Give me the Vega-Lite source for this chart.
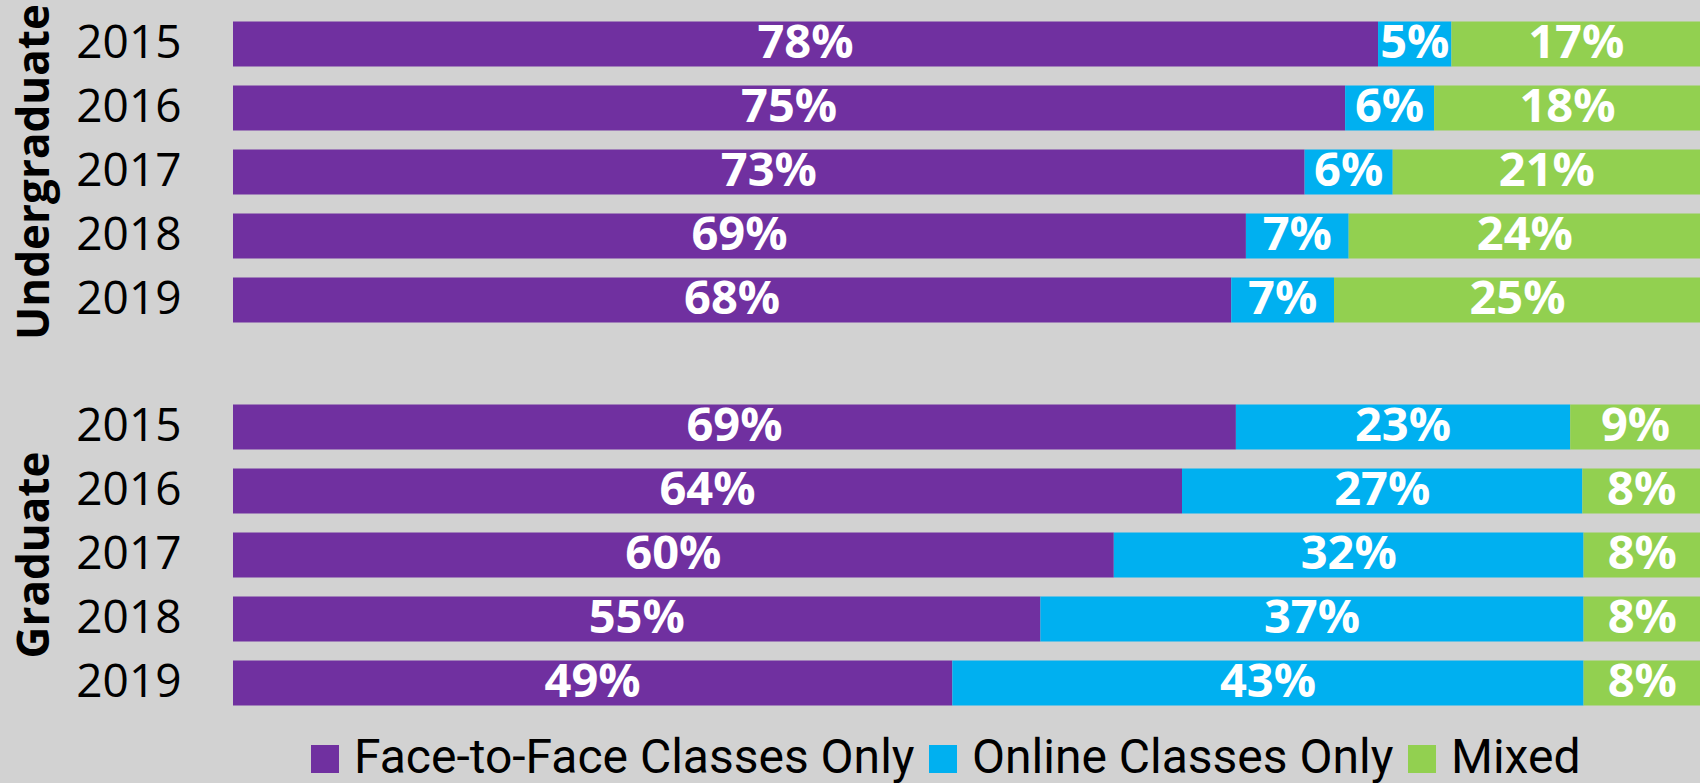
{
  "$schema": "https://vega.github.io/schema/vega-lite/v6.json",
  "background": "#d2d2d2",
  "padding": {"left": 13, "top": 4, "right": 0, "bottom": 30},
  "data": {"values": [
    {"group": "Undergraduate", "year": "2015", "type": "Face-to-Face Classes Only", "rank": 1, "pct": 0.78},
    {"group": "Undergraduate", "year": "2015", "type": "Online Classes Only", "rank": 2, "pct": 0.05},
    {"group": "Undergraduate", "year": "2015", "type": "Mixed", "rank": 3, "pct": 0.17},
    {"group": "Undergraduate", "year": "2016", "type": "Face-to-Face Classes Only", "rank": 1, "pct": 0.75},
    {"group": "Undergraduate", "year": "2016", "type": "Online Classes Only", "rank": 2, "pct": 0.06},
    {"group": "Undergraduate", "year": "2016", "type": "Mixed", "rank": 3, "pct": 0.18},
    {"group": "Undergraduate", "year": "2017", "type": "Face-to-Face Classes Only", "rank": 1, "pct": 0.73},
    {"group": "Undergraduate", "year": "2017", "type": "Online Classes Only", "rank": 2, "pct": 0.06},
    {"group": "Undergraduate", "year": "2017", "type": "Mixed", "rank": 3, "pct": 0.21},
    {"group": "Undergraduate", "year": "2018", "type": "Face-to-Face Classes Only", "rank": 1, "pct": 0.69},
    {"group": "Undergraduate", "year": "2018", "type": "Online Classes Only", "rank": 2, "pct": 0.07},
    {"group": "Undergraduate", "year": "2018", "type": "Mixed", "rank": 3, "pct": 0.24},
    {"group": "Undergraduate", "year": "2019", "type": "Face-to-Face Classes Only", "rank": 1, "pct": 0.68},
    {"group": "Undergraduate", "year": "2019", "type": "Online Classes Only", "rank": 2, "pct": 0.07},
    {"group": "Undergraduate", "year": "2019", "type": "Mixed", "rank": 3, "pct": 0.25},
    {"group": "Graduate", "year": "2015", "type": "Face-to-Face Classes Only", "rank": 1, "pct": 0.69},
    {"group": "Graduate", "year": "2015", "type": "Online Classes Only", "rank": 2, "pct": 0.23},
    {"group": "Graduate", "year": "2015", "type": "Mixed", "rank": 3, "pct": 0.09},
    {"group": "Graduate", "year": "2016", "type": "Face-to-Face Classes Only", "rank": 1, "pct": 0.64},
    {"group": "Graduate", "year": "2016", "type": "Online Classes Only", "rank": 2, "pct": 0.27},
    {"group": "Graduate", "year": "2016", "type": "Mixed", "rank": 3, "pct": 0.08},
    {"group": "Graduate", "year": "2017", "type": "Face-to-Face Classes Only", "rank": 1, "pct": 0.60},
    {"group": "Graduate", "year": "2017", "type": "Online Classes Only", "rank": 2, "pct": 0.32},
    {"group": "Graduate", "year": "2017", "type": "Mixed", "rank": 3, "pct": 0.08},
    {"group": "Graduate", "year": "2018", "type": "Face-to-Face Classes Only", "rank": 1, "pct": 0.55},
    {"group": "Graduate", "year": "2018", "type": "Online Classes Only", "rank": 2, "pct": 0.37},
    {"group": "Graduate", "year": "2018", "type": "Mixed", "rank": 3, "pct": 0.08},
    {"group": "Graduate", "year": "2019", "type": "Face-to-Face Classes Only", "rank": 1, "pct": 0.49},
    {"group": "Graduate", "year": "2019", "type": "Online Classes Only", "rank": 2, "pct": 0.43},
    {"group": "Graduate", "year": "2019", "type": "Mixed", "rank": 3, "pct": 0.08}
  ]},
  "facet": {
    "row": {
      "field": "group", "type": "nominal", "sort": ["Undergraduate", "Graduate"],
      "header": {"title": null, "labelAngle": -90, "labelOrient": "left", "labelFont": "Open Sans", "labelFontSize": 44, "labelFontWeight": "bold", "labelColor": "black", "labelPadding": -4}
    }
  },
  "spacing": {"row": 63},
  "spec": {
    "width": 1468,
    "height": 320,
    "encoding": {
      "y": {
        "field": "year", "type": "ordinal",
        "scale": {"paddingInner": 0.3, "paddingOuter": 0.15},
        "axis": {"title": null, "ticks": false, "domain": false, "labelFont": "Open Sans", "labelFontSize": 46, "labelColor": "black", "labelPadding": 52}
      }
    },
    "layer": [
      {
        "mark": {"type": "bar"},
        "encoding": {
          "x": {"field": "pct", "type": "quantitative", "stack": "normalize", "axis": null, "scale": {"domain": [0, 1], "nice": false}},
          "color": {
            "field": "type", "type": "nominal",
            "scale": {"domain": ["Face-to-Face Classes Only", "Online Classes Only", "Mixed"], "range": ["#7030A0", "#00B0F0", "#92D050"]},
            "legend": {"orient": "none", "legendX": 68, "legendY": 723, "direction": "horizontal", "title": null, "symbolType": "square", "symbolSize": 784, "symbolStrokeWidth": 0, "labelFont": "Roboto", "labelFontSize": 48, "labelColor": "black", "labelOffset": 5, "columnPadding": 4, "labelLimit": 1000}
          },
          "order": {"field": "rank"}
        }
      },
      {
        "mark": {"type": "text", "color": "white", "font": "Open Sans", "fontWeight": "bold", "fontSize": 47},
        "encoding": {
          "x": {"field": "pct", "type": "quantitative", "stack": "normalize", "bandPosition": 0.5},
          "detail": {"field": "type"},
          "order": {"field": "rank"},
          "text": {"field": "pct", "format": ".0%"}
        }
      }
    ]
  },
  "config": {"view": {"stroke": null}}
}
